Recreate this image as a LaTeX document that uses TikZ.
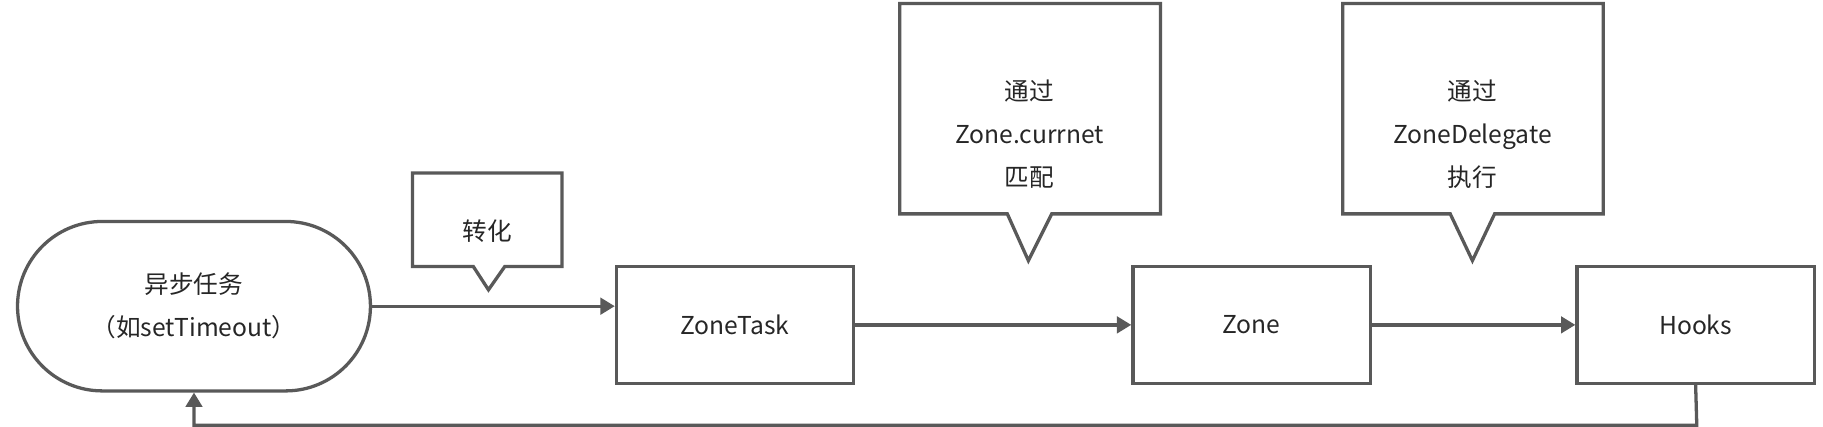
\documentclass[tikz,border=0pt]{standalone}
\usepackage{fontspec}
\setmainfont{Noto Sans CJK SC}
\usetikzlibrary{arrows.meta}
\definecolor{ln}{HTML}{595959}
\begin{document}
\begin{tikzpicture}[x=0.2mm,y=-0.2mm,line width=1.6pt,
  box/.style={draw=ln,rectangle,minimum width=40.6mm,minimum height=20mm,font=\fontsize{12}{16}\selectfont,text=black!85},
  lbl/.style={font=\fontsize{12}{16}\selectfont,text=black!85,align=center},
  arr/.style={draw=ln,-{Triangle[length=7pt,width=8pt]}},
  callout/.style={draw=ln,line join=miter}]
\useasboundingbox (0,0) rectangle (1560,365);
\node[draw=ln,rounded rectangle/.try,minimum width=60.4mm,minimum height=29mm,rounded corners=14.5mm,lbl] (task) at (166,262) {异步任务\\[5pt]（如setTimeout）};
\node[box] (zt) at (629,278) {ZoneTask};
\node[box] (zone) at (1071,278) {Zone};
\node[box] (hooks) at (1451,278) {Hooks};
% callouts
\draw[callout] (353,148) -- (481,148) -- (481,228) -- (432,228) -- (418,248) -- (405,228) -- (353,228) -- cycle;
\node[lbl] (c1) at (417,198) {转化};
\draw[callout] (770,3) -- (993,3) -- (993,183) -- (900,183) -- (880,223) -- (862,183) -- (770,183) -- cycle;
\node[lbl] (c2) at (881,115) {通过\\[5pt]Zone.currnet\\[5pt]匹配};
\draw[callout] (1149,3) -- (1372,3) -- (1372,183) -- (1279,183) -- (1260,223) -- (1241,183) -- (1149,183) -- cycle;
\node[lbl] (c3) at (1260,115) {通过\\[5pt]ZoneDelegate\\[5pt]执行};
% arrows
\draw[arr] (task.east) -- (zt.west |- task.east);
\draw[arr] (zt) -- (zone);
\draw[arr] (zone) -- (hooks);
\coordinate (b1) at (1452,364);
\coordinate (b2) at (166,364);
\draw[arr] (hooks.south) -- (b1) -- (b2) -- (task.south);
\end{tikzpicture}
\end{document}
